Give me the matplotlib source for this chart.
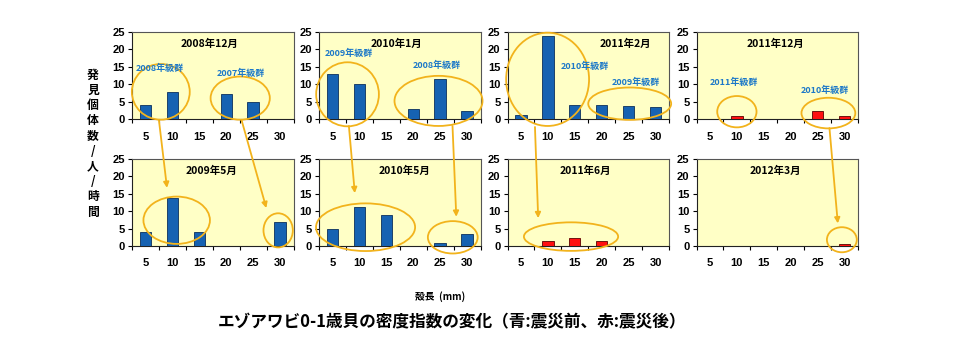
import matplotlib
matplotlib.use("Agg")
import matplotlib.pyplot as plt
from matplotlib.patches import Ellipse, ConnectionPatch

plt.rcParams["font.family"] = ["Liberation Sans", "Noto Sans CJK JP", "DejaVu Sans"]

# shell-length classes (mm)
size_classes = ["5", "10", "15", "20", "25", "30"]

# density index (individuals / person / hour) per survey
d_2008_12 = [4.0, 7.7, 0, 7.2, 4.8, 0]
d_2010_01 = [12.9, 10.1, 0, 2.9, 11.4, 2.2]
d_2011_02 = [1.1, 23.8, 4.0, 4.0, 3.8, 3.5]
d_2011_12 = [0, 1.0, 0, 0, 2.2, 1.0]
d_2009_05 = [4.0, 13.7, 4.0, 0, 0, 6.8]
d_2010_05 = [5.0, 11.2, 8.9, 0, 1.0, 3.4]
d_2011_06 = [0, 1.3, 2.3, 1.3, 0, 0]
d_2012_03 = [0, 0, 0, 0, 0, 0.6]

surveys = ["2008年12月", "2010年1月", "2011年2月", "2011年12月",
           "2009年5月", "2010年5月", "2011年6月", "2012年3月"]
series = [d_2008_12, d_2010_01, d_2011_02, d_2011_12,
          d_2009_05, d_2010_05, d_2011_06, d_2012_03]
after_quake = [False, False, False, True, False, False, True, True]

ylabel_chars = ["発", "見", "個", "体", "数", "/", "人", "/", "時", "間"]
xlabel = "殻長  (mm)"
title = "エゾアワビ0-1歳貝の密度指数の変化（青:震災前、赤:震災後）"

BLUE, BLUE_EDGE = "#1662b2", "#0b2f5c"
RED, RED_EDGE = "#ff1010", "#5a0000"
GOLD = "#f2b31c"
COHORT = "#1c78c8"
PANEL_BG = "#ffffc6"
CJK = ["Noto Sans CJK JP", "DejaVu Sans"]

W, H = 960, 341
fig = plt.figure(figsize=(W / 100, H / 100), dpi=100)

lefts = [132, 319, 507.5, 696.5]
aw, ah = 161.5, 87
row_bottoms = [119, 246]
title_x = [0.48, 0.48, 0.73, 0.49, 0.49, 0.53, 0.48, 0.49]

axes = []
for i, (name, vals) in enumerate(zip(surveys, series)):
    r, c = divmod(i, 4)
    ax = fig.add_axes([lefts[c] / W, 1 - row_bottoms[r] / H, aw / W, ah / H])
    ax.set_facecolor(PANEL_BG)
    x = list(range(len(size_classes)))
    fc, ec = (RED, RED_EDGE) if after_quake[i] else (BLUE, BLUE_EDGE)
    ax.bar(x, vals, width=0.42, color=fc, edgecolor=ec, linewidth=0.6, zorder=3)
    ax.set_xlim(-0.5, 5.5)
    ax.set_ylim(0, 25)
    ax.set_yticks([0, 5, 10, 15, 20, 25])
    ax.set_xticks(x)
    ax.set_xticklabels(size_classes)
    ax.set_xticks([k - 0.5 for k in range(7)], minor=True)
    ax.tick_params(axis="x", which="major", length=0, pad=9, labelsize=8)
    ax.tick_params(axis="x", which="minor", length=3, width=0.8, direction="out")
    ax.tick_params(axis="y", length=3, width=0.8, direction="out", pad=2, labelsize=8)
    for lab in ax.get_xticklabels() + ax.get_yticklabels():
        lab.set_fontweight("bold")
    for side, sp in ax.spines.items():
        sp.set_color("#222222" if side in ("bottom", "left") else "#555555")
        sp.set_linewidth(0.8)
    ax.text(title_x[i], 0.86, name, transform=ax.transAxes, ha="center", va="center",
            fontsize=7.5, fontweight="bold", family=CJK)
    axes.append(ax)

# cohort groupings: (panel, x, y, width, height)
groups = [
    (0, 0.57, 7.8, 2.15, 16.0), (0, 3.52, 6.0, 2.2, 12.4),
    (1, 0.56, 7.1, 2.33, 18.4), (1, 3.94, 5.2, 3.27, 14.4),
    (2, 0.99, 11.4, 3.08, 26.8), (2, 4.04, 4.4, 3.08, 9.3),
    (3, 1.0, 2.1, 1.46, 9.0), (3, 4.4, 1.7, 2.0, 8.8),
    (4, 1.16, 7.4, 2.47, 13.6), (4, 4.93, 4.5, 1.09, 9.8),
    (5, 1.23, 5.4, 3.68, 13.7), (5, 4.47, 2.5, 1.85, 9.3),
    (6, 1.86, 2.7, 3.5, 8.2),
    (7, 4.9, 1.8, 1.11, 7.2),
]
for p, gx, gy, gw, gh in groups:
    axes[p].add_patch(Ellipse((gx, gy), gw, gh, fill=False, edgecolor=GOLD,
                              linewidth=1.3, clip_on=False, zorder=6))

cohort_labels = [
    (0, 0.54, 14.4, "2008年級群"), (0, 3.54, 13.2, "2007年級群"),
    (1, 0.59, 18.9, "2009年級群"), (1, 3.86, 15.5, "2008年級群"),
    (2, 2.37, 15.0, "2010年級群"), (2, 4.28, 10.4, "2009年級群"),
    (3, 0.89, 10.6, "2011年級群"), (3, 4.26, 8.3, "2010年級群"),
]
for p, lx, ly, txt in cohort_labels:
    axes[p].text(lx, ly, txt, color=COHORT, fontsize=6.5, fontweight="bold",
                 ha="center", va="center", family=CJK, zorder=7)

# arrows following each cohort to the next survey
links = [
    (0, (0.50, -0.3), 4, (0.80, 16.7)),
    (0, (3.57, -0.3), 4, (4.49, 10.9)),
    (1, (0.61, -2.0), 5, (0.83, 15.2)),
    (1, (4.46, -2.0), 5, (4.60, 8.4)),
    (2, (0.52, -2.3), 6, (0.64, 8.0)),
    (3, (4.44, -2.6), 7, (4.75, 6.5)),
]
for pa, xa, pb, xb in links:
    con = ConnectionPatch(xyA=xa, coordsA=axes[pa].transData,
                          xyB=xb, coordsB=axes[pb].transData,
                          arrowstyle="-|>", mutation_scale=8,
                          color=GOLD, linewidth=1.3, zorder=8)
    fig.add_artist(con)

# vertical y-axis caption, one character per line
y0, y1 = 75, 212
step = (y1 - y0) / (len(ylabel_chars) - 1)
for k, ch in enumerate(ylabel_chars):
    fig.text(93 / W, 1 - (y0 + k * step) / H, ch, ha="center", va="center",
             fontsize=8.5, fontweight="bold", family=CJK)

fig.text(440 / W, 1 - 297 / H, xlabel, ha="center", va="center",
         fontsize=7, fontweight="bold", family=CJK)
fig.text(452 / W, 1 - 322 / H, title, ha="center", va="center",
         fontsize=12, fontweight="bold", family=CJK)

fig.savefig("out.png", dpi=100, facecolor="white")
